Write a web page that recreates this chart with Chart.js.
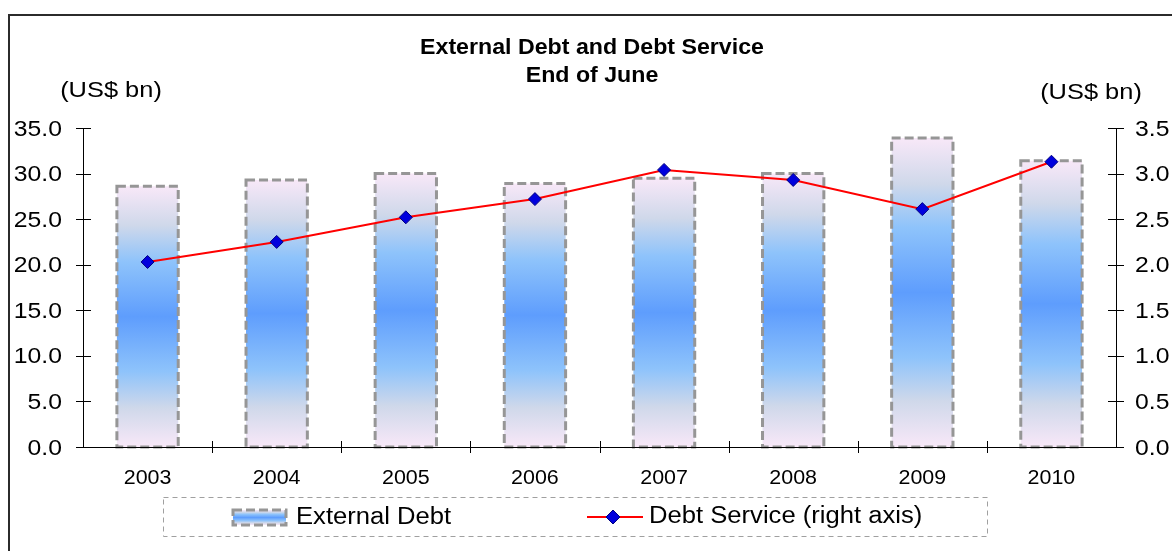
<!DOCTYPE html>
<html>
<head>
<meta charset="utf-8">
<title>External Debt and Debt Service</title>
<script src="https://cdn.jsdelivr.net/npm/chart.js@4.4.1/dist/chart.umd.min.js"></script>
<style>
  html, body { margin: 0; padding: 0; background: #ffffff; overflow: hidden; }
  canvas { display: block; }
</style>
</head>
<body>
<canvas id="debtChart" width="1172" height="551"></canvas>
<script>
// years shown along the bottom
var years = ["2003", "2004", "2005", "2006", "2007", "2008", "2009", "2010"];
// external debt, US$ bn (left axis)
var externalDebt = [28.6, 29.3, 30.0, 28.9, 29.5, 30.0, 33.9, 31.4];
// debt service, US$ bn (right axis)
var debtService = [2.03, 2.25, 2.52, 2.72, 3.04, 2.93, 2.61, 3.13];
// tick values for both value axes
var leftTicks = [0, 5, 10, 15, 20, 25, 30, 35];
var rightTicks = [0, 0.5, 1, 1.5, 2, 2.5, 3, 3.5];

var FONT = '"Liberation Sans", Arial, Helvetica, sans-serif';

function barGradient(ctx, top, bottom) {
    var g = ctx.createLinearGradient(0, top, 0, bottom);
    g.addColorStop(0, "#f8e8f8");
    g.addColorStop(0.15, "#cfd8ea");
    g.addColorStop(0.29, "#8ec3fb");
    g.addColorStop(0.5, "#5e9dfd");
    g.addColorStop(0.71, "#8ec3fb");
    g.addColorStop(0.85, "#cfd8ea");
    g.addColorStop(1, "#f8e8f8");
    return g;
}

// text is a little wider than the plain font, so stretch it sideways
function drawText(ctx, str, x, y, size, bold, align, sx) {
    ctx.save();
    ctx.font = (bold ? "bold " : "") + size + "px " + FONT;
    ctx.textAlign = "left";
    ctx.textBaseline = "alphabetic";
    ctx.fillStyle = "#000000";
    var w = ctx.measureText(str).width * sx;
    var left = x;
    if (align === "center") left = x - w / 2;
    else if (align === "right") left = x - w;
    ctx.translate(left, y);
    ctx.scale(sx, 1);
    ctx.fillText(str, 0, 0);
    ctx.restore();
}

function dashedBox(ctx, x, y, w, h) {
    ctx.save();
    ctx.strokeStyle = "#969696";
    ctx.lineWidth = 3;
    ctx.setLineDash([9, 4]);
    ctx.strokeRect(x, y, w, h);
    ctx.restore();
}

// dashed outlines round each bar, drawn before the line goes on top
var barOutline = {
    id: "barOutline",
    afterDatasetDraw: function(chart, args) {
        if (args.index !== 0) return;
        var ctx = chart.ctx;
        args.meta.data.forEach(function(bar) {
            var p = bar.getProps(["x", "y", "base", "width"], true);
            dashedBox(ctx, p.x - p.width / 2, p.y, p.width, p.base - p.y);
        });
    }
};

// frame, titles, axes with crossing ticks, tick labels and legend
var decorations = {
    id: "decorations",
    afterDraw: function(chart) {
        var ctx = chart.ctx;
        var area = chart.chartArea;
        var y = chart.scales.y;
        var y1 = chart.scales.y1;
        var x = chart.scales.x;

        // outer frame
        ctx.save();
        ctx.strokeStyle = "#2b2b2b";
        ctx.lineWidth = 2;
        ctx.strokeRect(9, 15, 1300, 700);
        ctx.restore();

        drawText(ctx, "External Debt and Debt Service", 592, 54, 22.5, true, "center", 1.03);
        drawText(ctx, "End of June", 592, 82, 22.5, true, "center", 1.03);
        drawText(ctx, "(US$ bn)", 111, 97, 22.5, false, "center", 1.13);
        drawText(ctx, "(US$ bn)", 1091, 99, 22.5, false, "center", 1.13);

        // axis lines
        ctx.save();
        ctx.strokeStyle = "#000000";
        ctx.lineWidth = 1;
        ctx.beginPath();
        ctx.moveTo(Math.round(area.left) + 0.5, area.top);
        ctx.lineTo(Math.round(area.left) + 0.5, area.bottom);
        ctx.moveTo(Math.round(area.right) + 0.5, area.top);
        ctx.lineTo(Math.round(area.right) + 0.5, area.bottom);
        ctx.moveTo(area.left, Math.round(area.bottom) + 0.5);
        ctx.lineTo(area.right, Math.round(area.bottom) + 0.5);
        leftTicks.forEach(function(v) {
            var py = Math.round(y.getPixelForValue(v)) + 0.5;
            ctx.moveTo(area.left - 7, py);
            ctx.lineTo(area.left + 8, py);
        });
        rightTicks.forEach(function(v) {
            var py = Math.round(y1.getPixelForValue(v)) + 0.5;
            ctx.moveTo(area.right - 8, py);
            ctx.lineTo(area.right + 8, py);
        });
        // category boundaries on the x axis
        for (var i = 1; i < years.length; i++) {
            var px = Math.round((x.getPixelForValue(i - 1) + x.getPixelForValue(i)) / 2) + 0.5;
            ctx.moveTo(px, area.bottom - 6);
            ctx.lineTo(px, area.bottom + 6);
        }
        ctx.stroke();
        ctx.restore();

        leftTicks.forEach(function(v) {
            drawText(ctx, v.toFixed(1), 62, y.getPixelForValue(v) + 7.5, 22.5, false, "right", 1.1);
        });
        rightTicks.forEach(function(v) {
            drawText(ctx, v.toFixed(1), 1135, y1.getPixelForValue(v) + 7.5, 22.5, false, "left", 1.1);
        });
        years.forEach(function(label, i) {
            drawText(ctx, label, x.getPixelForValue(i), 484, 19.5, false, "center", 1.1);
        });

        // legend
        ctx.save();
        ctx.strokeStyle = "#a0a0a0";
        ctx.lineWidth = 1;
        ctx.setLineDash([5, 4]);
        ctx.strokeRect(163.5, 497.5, 824, 39);
        ctx.restore();

        ctx.save();
        ctx.fillStyle = barGradient(ctx, 510, 525);
        ctx.fillRect(233, 510, 53, 15);
        ctx.restore();
        dashedBox(ctx, 233, 510, 53, 15);
        drawText(ctx, "External Debt", 296, 524, 23.5, false, "left", 1.09);

        ctx.save();
        ctx.strokeStyle = "#ff0000";
        ctx.lineWidth = 2;
        ctx.beginPath();
        ctx.moveTo(587, 517);
        ctx.lineTo(643, 517);
        ctx.stroke();
        ctx.fillStyle = "#0000dd";
        ctx.strokeStyle = "#000080";
        ctx.lineWidth = 1;
        ctx.beginPath();
        ctx.moveTo(613, 510);
        ctx.lineTo(620, 517);
        ctx.lineTo(613, 524);
        ctx.lineTo(606, 517);
        ctx.closePath();
        ctx.fill();
        ctx.stroke();
        ctx.restore();
        drawText(ctx, "Debt Service (right axis)", 649, 523, 23.5, false, "left", 1.09);
    }
};

var ctx = document.getElementById("debtChart").getContext("2d");

var chart = new Chart(ctx, {
    type: "bar",
    data: {
        labels: years,
        datasets: [{
            type: "bar",
            label: "External Debt",
            data: externalDebt,
            yAxisID: "y",
            order: 1,
            barPercentage: 0.475,
            categoryPercentage: 1,
            borderWidth: 0,
            backgroundColor: function(c) {
                var s = c.chart.scales.y;
                if (c.type !== "data" || !s) return "#5e9dfd";
                var top = s.getPixelForValue(c.raw);
                var bottom = s.getPixelForValue(0);
                if (!isFinite(top) || !isFinite(bottom) || top === bottom) return "#5e9dfd";
                return barGradient(c.chart.ctx, top, bottom);
            }
        }, {
            type: "line",
            label: "Debt Service (right axis)",
            data: debtService,
            yAxisID: "y1",
            order: 0,
            borderColor: "#ff0000",
            borderWidth: 2,
            tension: 0,
            fill: false,
            pointStyle: "rectRot",
            pointRadius: 6.5,
            pointBackgroundColor: "#0000dd",
            pointBorderColor: "#000080",
            pointBorderWidth: 1
        }]
    },
    options: {
        responsive: false,
        devicePixelRatio: 1,
        animation: false,
        layout: {
            padding: { left: 83, right: 56, top: 128, bottom: 104 }
        },
        plugins: {
            legend: { display: false },
            title: { display: false },
            tooltip: { enabled: false }
        },
        scales: {
            x: { display: false, offset: true },
            y: { display: false, min: 0, max: 35 },
            y1: { display: false, position: "right", min: 0, max: 3.5 }
        }
    },
    plugins: [barOutline, decorations]
});
</script>
</body>
</html>
